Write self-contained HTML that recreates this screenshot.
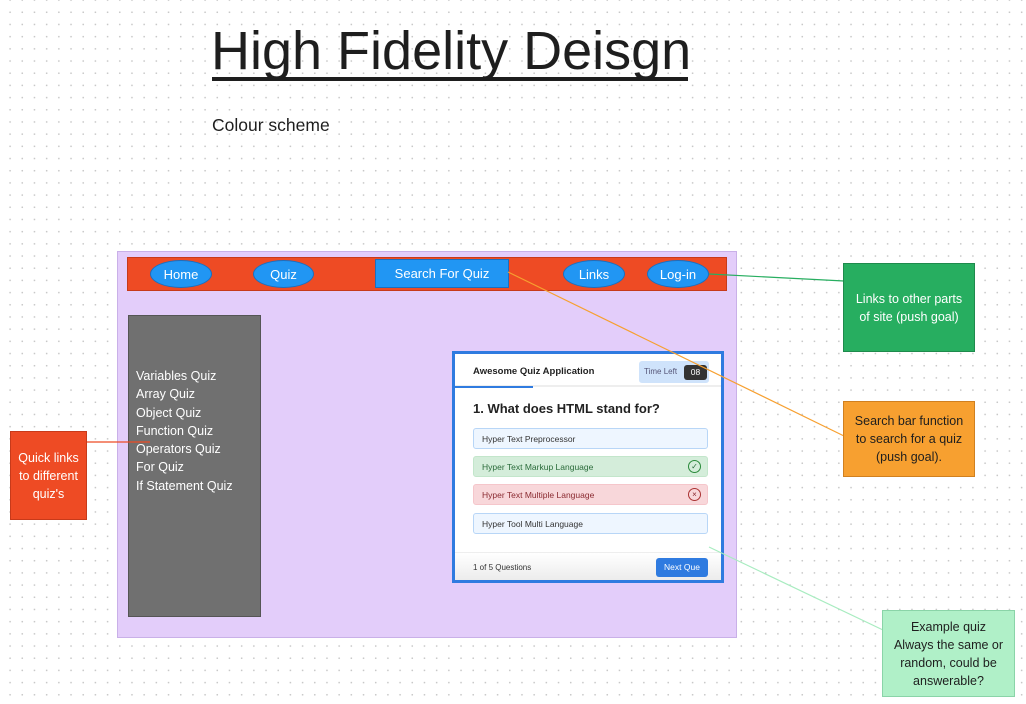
<!DOCTYPE html>
<html><head><style>
body{margin:0;width:1026px;height:704px;position:relative;overflow:hidden;background:#fff;font-family:"Liberation Sans",sans-serif;
background-image:radial-gradient(circle,#c8c8c8 0.8px,transparent 1px);background-size:12.2px 12.2px;background-position:4px -6px;}
.a{position:absolute;box-sizing:border-box}
.ov{position:absolute;background:#2196f3;border:1px solid #1a6fc0;border-radius:50%;color:#fff;font-size:13px;display:flex;align-items:center;justify-content:center;box-sizing:border-box}
.note{position:absolute;box-sizing:border-box;font-size:12.5px;text-align:center;display:flex;align-items:center;justify-content:center;line-height:18px}
.opt{position:absolute;left:18px;width:235px;height:21px;border-radius:3px;font-size:8.5px;padding-left:8px;display:flex;align-items:center;box-sizing:border-box}
</style></head><body>
<div class="a" style="left:211px;top:20px;font-size:54px;color:#1e1e1e;line-height:62px">High Fidelity Deisgn</div>
<div class="a" style="left:212px;top:77px;width:476px;height:4px;background:#1e1e1e"></div>
<div class="a" style="left:212px;top:115px;font-size:17.5px;color:#1e1e1e">Colour scheme</div>

<div class="a" style="left:117px;top:251px;width:620px;height:387px;background:#e3cdfa;border:1px solid #c9b0e8"></div>
<div class="a" style="left:127px;top:257px;width:600px;height:34px;background:#ee4b24;border:1px solid #c73a1a"></div>
<div class="ov" style="left:150px;top:260px;width:62px;height:28px">Home</div>
<div class="ov" style="left:253px;top:260px;width:61px;height:28px">Quiz</div>
<div class="a" style="left:375px;top:259px;width:134px;height:29px;background:#2196f3;border:1px solid #1a6fc0;color:#fff;font-size:13px;display:flex;align-items:center;justify-content:center">Search For Quiz</div>
<div class="ov" style="left:563px;top:260px;width:62px;height:28px">Links</div>
<div class="ov" style="left:647px;top:260px;width:62px;height:28px">Log-in</div>

<div class="a" style="left:128px;top:315px;width:133px;height:302px;background:#707070;border:1px solid #555;color:#fff;font-size:12.5px;line-height:18.3px;padding:51px 0 0 7px">Variables Quiz<br>Array Quiz<br>Object Quiz<br>Function Quiz<br>Operators Quiz<br>For Quiz<br>If Statement Quiz</div>

<div class="a" style="left:452px;top:351px;width:272px;height:232px;background:#2f7be0;padding:3px">
 <div style="position:relative;width:266px;height:226px;background:#fff">
  <div class="a" style="left:0;top:0;width:266px;height:33px;border-bottom:2px solid #eee"></div>
  <div class="a" style="left:0;top:32px;width:78px;height:2px;background:#2f7be0"></div>
  <div class="a" style="left:18px;top:12px;font-size:9.5px;font-weight:bold;color:#222">Awesome Quiz Application</div>
  <div class="a" style="left:184px;top:7px;width:70px;height:22px;background:#cfe3fb;border-radius:3px;font-size:8px;color:#557;padding:6px 0 0 5px">Time Left</div>
  <div class="a" style="left:229px;top:11px;width:23px;height:15px;background:#333;color:#fff;border-radius:3px;font-size:8.5px;text-align:center;line-height:15px">08</div>
  <div class="a" style="left:18px;top:47px;font-size:13px;font-weight:bold;color:#222">1. What does HTML stand for?</div>
  <div class="opt" style="top:74px;background:#eef6ff;border:1px solid #b8d6f7;color:#333">Hyper Text Preprocessor</div>
  <div class="opt" style="top:102px;background:#d4edda;border:1px solid #c3e6cb;color:#2a6b3a">Hyper Text Markup Language<span style="position:absolute;right:6px;width:11px;height:11px;border:1px solid #2a8a3a;border-radius:50%;font-size:8px;text-align:center;line-height:11px">✓</span></div>
  <div class="opt" style="top:130px;background:#f8d7da;border:1px solid #f5c6cb;color:#8a2a30">Hyper Text Multiple Language<span style="position:absolute;right:6px;width:11px;height:11px;border:1px solid #a33;border-radius:50%;font-size:8px;text-align:center;line-height:11px">×</span></div>
  <div class="opt" style="top:159px;background:#eef6ff;border:1px solid #b8d6f7;color:#333">Hyper Tool Multi Language</div>
  <div class="a" style="left:0;top:198px;width:266px;height:28px;background:linear-gradient(#fff,#ececec);border-top:1px solid #eee"></div>
  <div class="a" style="left:18px;top:209px;font-size:8px;color:#333">1 of 5 Questions</div>
  <div class="a" style="left:201px;top:204px;width:52px;height:19px;background:#2f7be0;border-radius:3px;color:#fff;font-size:8.5px;text-align:center;line-height:19px">Next Que</div>
 </div>
</div>

<svg class="a" style="left:0;top:0" width="1026" height="704">
 <line x1="709" y1="274" x2="844" y2="281" stroke="#27ae60" stroke-width="1.2"/>
 <line x1="508" y1="272" x2="844" y2="436" stroke="#f7a030" stroke-width="1.2"/>
 <line x1="86" y1="442" x2="150" y2="442" stroke="#ee4b24" stroke-width="1.2"/>
 <line x1="709" y1="547" x2="883" y2="630" stroke="#a8ecc0" stroke-width="1.2"/>
</svg>

<div class="note" style="left:843px;top:263px;width:132px;height:89px;background:#27ae60;border:1px solid #1e8a4c;color:#fff">Links to other parts<br>of site (push goal)</div>
<div class="note" style="left:843px;top:401px;width:132px;height:76px;background:#f7a030;border:1px solid #d08020;color:#1e1e1e">Search bar function<br>to search for a quiz<br>(push goal).</div>
<div class="note" style="left:10px;top:431px;width:77px;height:89px;background:#ee4b24;border:1px solid #c73a1a;color:#fff">Quick links<br>to different<br>quiz's</div>
<div class="note" style="left:882px;top:610px;width:133px;height:87px;background:#b0f0c8;border:1px solid #8ad4a8;color:#1e1e1e">Example quiz<br>Always the same or<br>random, could be<br>answerable?</div>
</body></html>
